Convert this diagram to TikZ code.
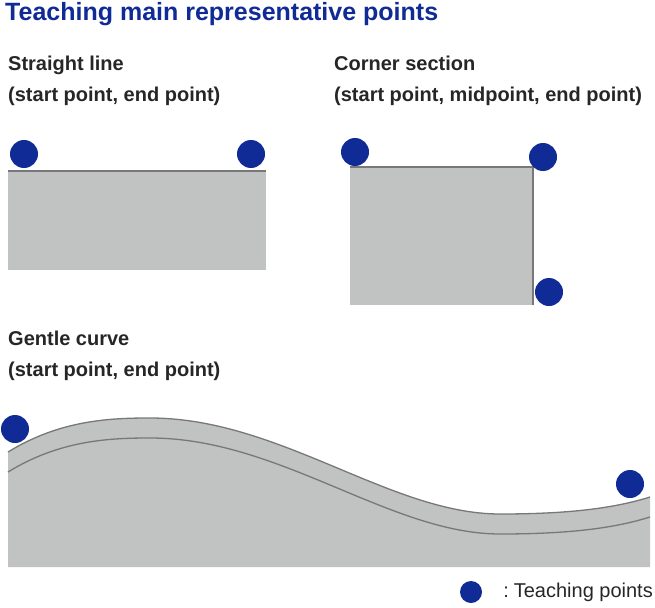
\documentclass[tikz,border=0pt]{standalone}
\usepackage{fontspec}
\setmainfont{Liberation Sans}
\definecolor{tpblue}{RGB}{16,42,150}
\definecolor{workgray}{RGB}{193,194,194}
\definecolor{edgegray}{RGB}{120,120,120}
\tikzset{
  tpoint/.style={circle,fill=tpblue,minimum size=28pt,inner sep=0pt},
  caption/.style={anchor=north west,align=left,inner sep=0pt,font=\fontsize{20}{31}\selectfont\bfseries,text=black!85},
  work/.style={fill=workgray,draw=none},
  edge/.style={draw=edgegray,line width=1.3pt}
}
\begin{document}
\begin{tikzpicture}[x=1pt,y=-1pt]
\useasboundingbox (0,0) rectangle (655,607);

% Title
\node[anchor=north west,inner sep=0pt,text=tpblue,font=\fontsize{25}{28}\selectfont\bfseries] (title) at (5,2) {Teaching main representative points};

% Straight line
\node[caption] (lbl1) at (8,56) {Straight line\\(start point, end point)};
\fill[work] (8,171) rectangle (266,270);
\draw[edge] (8,171) -- (266,171);
\node[tpoint] (s1) at (24,154) {};
\node[tpoint] (s2) at (251,154) {};

% Corner section
\node[caption] (lbl2) at (334,56) {Corner section\\(start point, midpoint, end point)};
\fill[work] (350,167) rectangle (533,305);
\draw[edge] (350,167) -- (533,167) -- (533,305);
\node[tpoint] (c1) at (355,152) {};
\node[tpoint] (c2) at (543,157) {};
\node[tpoint] (c3) at (549,292) {};

% Gentle curve
\node[caption] (lbl3) at (8,331) {Gentle curve\\(start point, end point)};
\fill[work] (8,452) .. controls (60,420) and (110,418) .. (150,418)
  .. controls (280,418) and (390,514) .. (500,514)
  .. controls (570,514) and (615,508) .. (650,497) -- (650,567) -- (8,567) -- cycle;
\draw[edge] (8,452) .. controls (60,420) and (110,418) .. (150,418)
  .. controls (280,418) and (390,514) .. (500,514)
  .. controls (570,514) and (615,508) .. (650,497);
\draw[edge] (8,472) .. controls (60,440) and (110,438) .. (150,438)
  .. controls (280,438) and (390,534) .. (500,534)
  .. controls (570,534) and (615,528) .. (650,517);
\node[tpoint] (g1) at (15,429) {};
\node[tpoint] (g2) at (630,484) {};

% Legend
\node[tpoint,minimum size=22pt] (key) at (471,592) {};
\node[anchor=east,inner sep=0pt,font=\fontsize{20}{22}\selectfont,text=black!85] (keytxt) at (653,592) {:\hspace{5pt}Teaching points};
\end{tikzpicture}
\end{document}
